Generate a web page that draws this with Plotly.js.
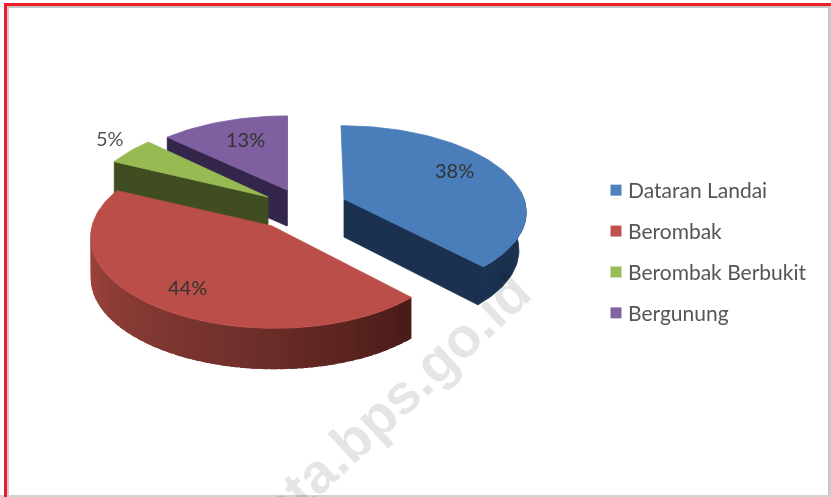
<!DOCTYPE html>
<html>
<head>
<meta charset="utf-8">
<script src="https://cdn.plot.ly/plotly-3.0.1.min.js"></script>
<style>
html,body{margin:0;padding:0;background:#fff;overflow:hidden}
#chart{width:831px;height:497px;filter:blur(0.5px)}
</style>
</head>
<body>
<div id="chart"></div>
<script>
var categories = ["Dataran Landai", "Berombak", "Berombak Berbukit", "Bergunung"];
var values = [38, 44, 5, 13];
var legendColors = ["#4f81bd", "#c0504d", "#9bbb59", "#8064a2"];
var topColors = ["#4a7ebb", "#bc4e4a", "#98ba53", "#7e5f9f"];
var sideColors = ["#1b3150", "#4a1a17", "#3f4d20", "#33264a"];
var watermark = "kota.bps.go.id";

// 3D pie geometry (pixel-valued axes)
var RX = 180, RY = 88, PERSP = 0.14;
var depths = [38, 41, 38, 36];
var apexes = [[344, 199], [272, 226], [268, 197], [287, 190]];
var floorScale = [0.96, 1, 1, 1];
var ryScale = [0.95, 1, 1, 0.96];
var shear = [3, 3, 0, 0];
var labelPos = [[454, 170], [187, 287], [110, 138], [245, 139]];
var labelColors = ["#333", "#333", "#555", "#333"];

function pt(i, deg, dz) {
  var t = deg * Math.PI / 180, s = 1 + PERSP * Math.cos(t), k = dz ? floorScale[i] : 1;
  return [apexes[i][0] + k * RX * Math.sin(t) / s - shear[i] * Math.cos(t),
          apexes[i][1] - ryScale[i] * RY * Math.cos(t) / s + (dz || 0)];
}
function arc(i, a, b, dz) {
  var out = [], n = Math.max(2, Math.ceil(Math.abs(b - a) / 1.5));
  for (var k = 0; k <= n; k++) out.push(pt(i, a + (b - a) * k / n, dz));
  return out;
}
function poly(points, color, w) {
  var p = points.concat([points[0]]);
  return {
    x: p.map(function (q) { return q[0]; }), y: p.map(function (q) { return q[1]; }),
    mode: "lines", fill: "toself", fillcolor: color,
    line: { color: color, width: w === undefined ? 0.8 : w }, showlegend: false, hoverinfo: "skip"
  };
}
function band(i, a, b, color, w) {
  return poly(arc(i, a, b, 0).concat(arc(i, a, b, depths[i]).reverse()), color, w);
}
function cutFace(i, deg) {
  var d = depths[i], A = apexes[i];
  return poly([A, pt(i, deg), pt(i, deg, d), [A[0], A[1] + d]], sideColors[i]);
}
function topFace(i) {
  return poly([apexes[i]].concat(arc(i, starts[i], endOf(i))), topColors[i]);
}
function mix(c1, c2, f) {
  return "rgb(" + c1.map(function (v, k) { return Math.round(v + (c2[k] - v) * f); }).join(",") + ")";
}

var starts = [], acc = 0, total = values.reduce(function (a, b) { return a + b; }, 0);
values.forEach(function (v) { starts.push(acc / total * 360); acc += v; });
function endOf(i) { return starts[i] + values[i] / total * 360; }

var traces = [];
// purple (back)
traces.push(cutFace(3, starts[3]));
traces.push(cutFace(3, endOf(3)));
traces.push(topFace(3));
// green
traces.push(cutFace(2, starts[2]));
traces.push(topFace(2));
// red with a graded outer wall, painted left to right so each strip overlaps the next
var redStops = [[165, 71, 63], [112, 48, 43], [74, 26, 23]];
var N = 48, wallEnd = endOf(1) - 25, wallStart = starts[1];
for (var j = 0; j < N; j++) {
  var a = wallEnd - (wallEnd - wallStart) * j / N;
  var b = wallEnd - (wallEnd - wallStart) * (j + 1) / N - 2;
  if (b < wallStart) b = wallStart;
  var f = (j + 0.5) / N;
  var col = f < 0.6 ? mix(redStops[0], redStops[1], f / 0.6) : mix(redStops[1], redStops[2], (f - 0.6) / 0.4);
  traces.push(band(1, a, b, col, 0));
}
traces.push(topFace(1));
// blue
traces.push(band(0, 85, endOf(0), sideColors[0], 0.8));
traces.push(cutFace(0, endOf(0)));
traces.push(topFace(0));

// legend entries
categories.forEach(function (c, i) {
  traces.push({
    x: [null], y: [null], name: c, mode: "markers", legendgroup: c, showlegend: true,
    marker: { symbol: "square", size: 11, color: legendColors[i] }
  });
});

var annotations = values.map(function (v, i) {
  return {
    xref: "x", yref: "y", x: labelPos[i][0], y: labelPos[i][1], text: v + "%", showarrow: false,
    font: { family: "Lato, sans-serif", size: 20, color: labelColors[i] }
  };
});
annotations.push({
  xref: "x", yref: "y", x: 382, y: 411, text: "<b>" + watermark + "</b>", showarrow: false, textangle: -43,
  font: { family: "Liberation Sans, Arial, sans-serif", size: 56, color: "rgba(0,0,0,0.1)" }
});

function box(x0, y0, x1, y1, color) {
  return { type: "rect", xref: "x", yref: "y", x0: x0, y0: y0, x1: x1, y1: y1, fillcolor: color, line: { width: 0 }, layer: "above" };
}
var shapes = [
  box(6, 6, 831, 8, "#c4c4c4"), box(7, 6, 9, 497, "#cfcfcf"),
  box(828, 6, 831, 497, "#c9c9c9"), box(0, 495, 831, 497, "#d2d2d2"),
  box(4, 3, 831, 6, "#ee1c24"), box(4, 3, 7, 497, "#ee1c24")
];

var layout = {
  width: 831, height: 497, margin: { l: 0, r: 0, t: 0, b: 0 },
  paper_bgcolor: "#fff", plot_bgcolor: "#fff", showlegend: true,
  xaxis: { range: [0, 831], visible: false, fixedrange: true },
  yaxis: { range: [497, 0], visible: false, fixedrange: true },
  legend: {
    x: 588 / 831, y: 1 - 170 / 497, xanchor: "left", yanchor: "top", bgcolor: "rgba(0,0,0,0)",
    tracegroupgap: 10.6, font: { family: "Lato, sans-serif", size: 21, color: "#555" }, traceorder: "grouped"
  },
  annotations: annotations, shapes: shapes
};
Plotly.newPlot("chart", traces, layout, { displayModeBar: false, staticPlot: true }).then(function (gd) {
  gd.querySelectorAll(".legend .legendpoints").forEach(function (n) { n.setAttribute("transform", "translate(8,0)"); });
});
</script>
</body>
</html>
